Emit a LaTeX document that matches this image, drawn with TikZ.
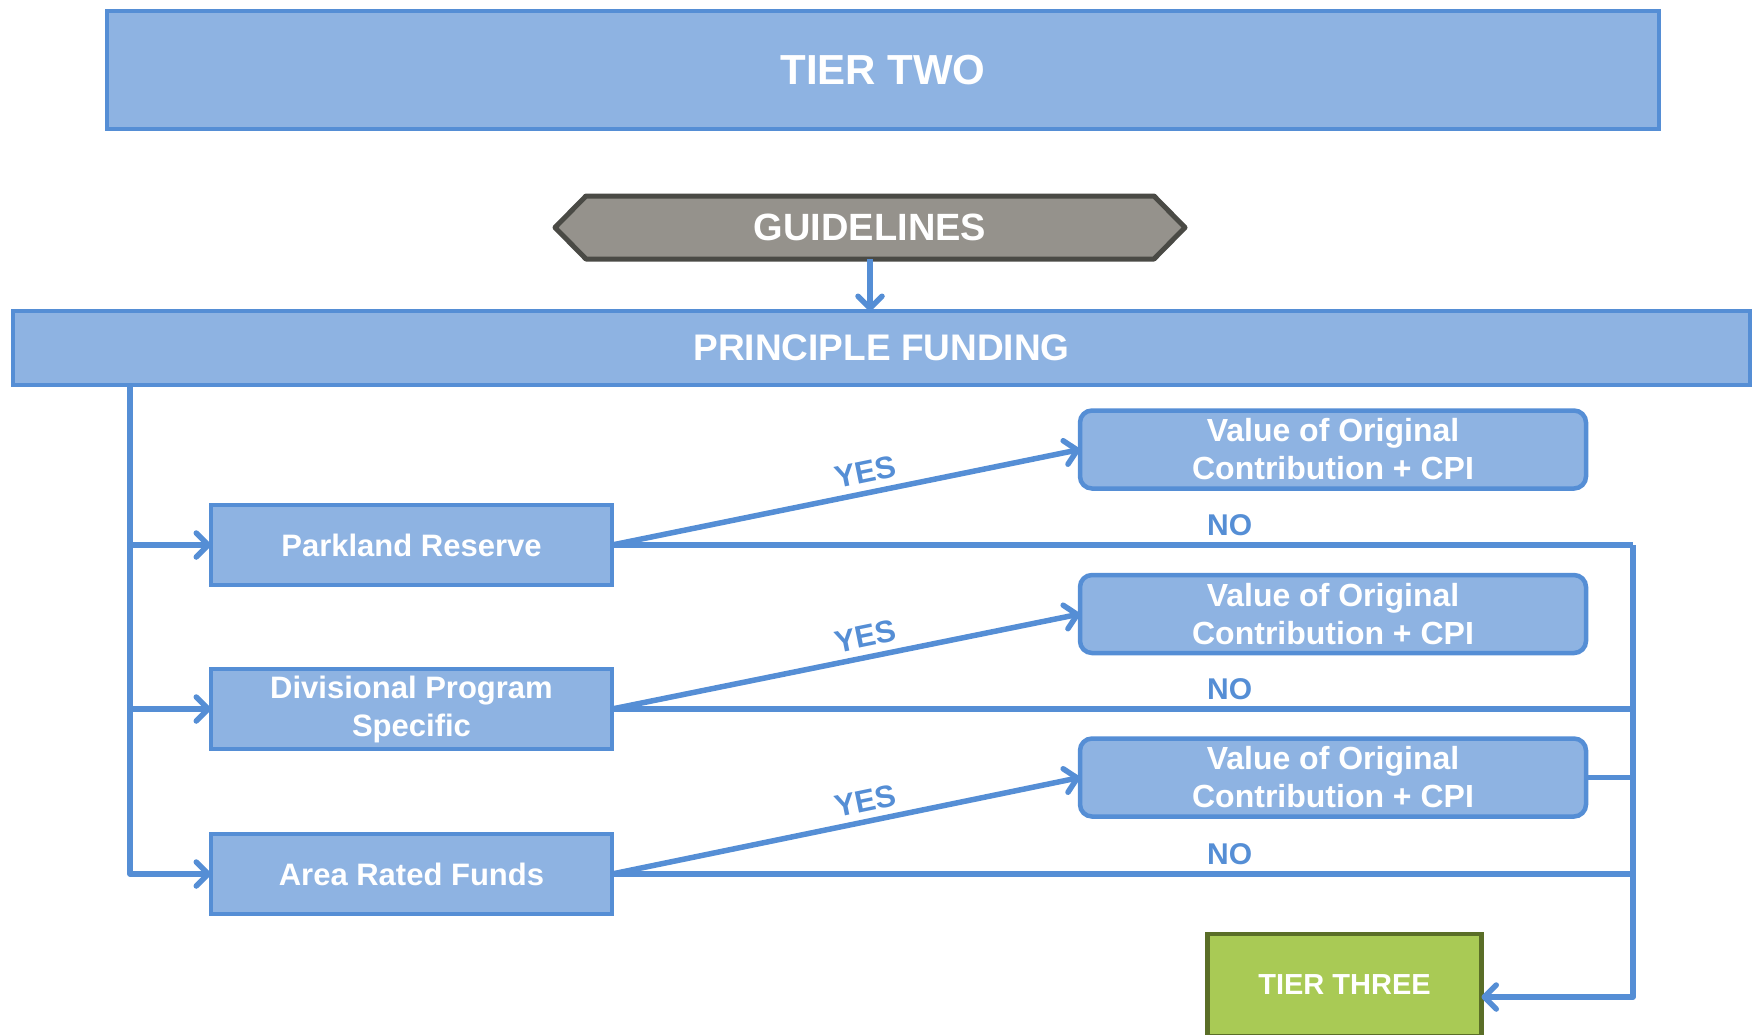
\documentclass[tikz,border=0pt]{standalone}
\usepackage{fontspec}
\setmainfont{Liberation Sans}
\usetikzlibrary{arrows.meta,calc}
\definecolor{bfill}{HTML}{8EB3E2}
\definecolor{bline}{HTML}{558ED5}
\definecolor{gfill}{HTML}{95928C}
\definecolor{gline}{HTML}{4A4A45}
\definecolor{tfill}{HTML}{A9CA55}
\definecolor{tline}{HTML}{5A6E27}
\pgfdeclarelayer{background}
\pgfsetlayers{background,main}
\begin{document}
\begin{tikzpicture}[x=1pt,y=-1pt,
  box/.style={draw=bline,fill=bfill,line width=4.5pt,inner sep=0pt,outer sep=0pt,
    text=white,font=\bfseries\fontsize{31}{38}\selectfont,align=center},
  vbox/.style={box,rounded corners=12pt,font=\bfseries\fontsize{32}{38}\selectfont},
  conn/.style={draw=bline,line width=5.5pt,line join=round},
  arr/.style={conn,-{Straight Barb[length=12pt,width=24pt,line cap=round,line join=round]}},
  lbl/.style={text=bline,font=\bfseries\fontsize{30}{30}\selectfont,inner sep=2pt},
  ylbl/.style={lbl,sloped,above=5pt,pos=0.55,font=\bfseries\fontsize{31}{31}\selectfont}]
\useasboundingbox (0,0) rectangle (1754,1034);

% titles
\node[box,minimum width=1552,minimum height=118,font=\bfseries\fontsize{42}{42}\selectfont]
  (t2) at (883,70) {TIER TWO};
\node[text=white,font=\bfseries\fontsize{38}{38}\selectfont,minimum width=630,minimum height=63,inner sep=0pt,outer sep=0pt]
  (guide) at (870,227.5) {GUIDELINES};
\begin{pgfonlayer}{background}
\draw[draw=gline,fill=gfill,line width=5pt,line join=round]
  (guide.west) -- ($(guide.north west)+(31,0)$) -- ($(guide.north east)+(-31,0)$)
  -- (guide.east) -- ($(guide.south east)+(-31,0)$) -- ($(guide.south west)+(31,0)$) -- cycle;
\end{pgfonlayer}
\node[box,minimum width=1737,minimum height=74,font=\bfseries\fontsize{37}{37}\selectfont]
  (pf) at (881.5,348) {PRINCIPLE FUNDING};

% left boxes
\node[box,minimum width=401,minimum height=80] (park) at (411.5,545) {Parkland Reserve};
\node[box,minimum width=401,minimum height=80] (div) at (411.5,709) {Divisional Program\\Specific};
\node[box,minimum width=401,minimum height=80] (area) at (411.5,874) {Area Rated Funds};

% value boxes
\node[vbox,minimum width=506,minimum height=78] (v1) at (1333,449.5) {Value of Original\\Contribution + CPI};
\node[vbox,minimum width=506,minimum height=78] (v2) at (1333,614) {Value of Original\\Contribution + CPI};
\node[vbox,minimum width=506,minimum height=78] (v3) at (1333,777.5) {Value of Original\\Contribution + CPI};

% tier three
\node[draw=tline,fill=tfill,line width=4.5pt,inner sep=0pt,outer sep=0pt,text=white,
  font=\bfseries\fontsize{29}{29}\selectfont,minimum width=274,minimum height=102]
  (t3) at (1344.5,985) {TIER THREE};

\coordinate (lx) at (130,0);
\coordinate (rx) at (1633,0);
\coordinate (t3in) at ($(t3.east)+(0,12)$);

% connectors
\draw[arr] (guide.south) -- (guide.south |- pf.north);
\draw[arr] (pf.south -| lx) |- (area.west);
\draw[arr] (park.west -| lx) -- (park.west);
\draw[arr] (div.west -| lx) -- (div.west);

\draw[arr] (park.east) -- node[ylbl]{YES} (v1.west);
\draw[arr] (div.east) -- node[ylbl]{YES} (v2.west);
\draw[arr] (area.east) -- node[ylbl]{YES} (v3.west);

\draw[conn] (park.east) -- node[lbl,above=4pt,pos=0.605]{NO} (park.east -| rx);
\draw[conn] (div.east) -- node[lbl,above=4pt,pos=0.605]{NO} (div.east -| rx);
\draw[conn] (area.east) -- node[lbl,above=4pt,pos=0.605]{NO} (area.east -| rx);
\draw[conn] (v3.east) -- (v3.east -| rx);
\draw[arr] (park.east -| rx) |- (t3in);
\end{tikzpicture}
\end{document}
